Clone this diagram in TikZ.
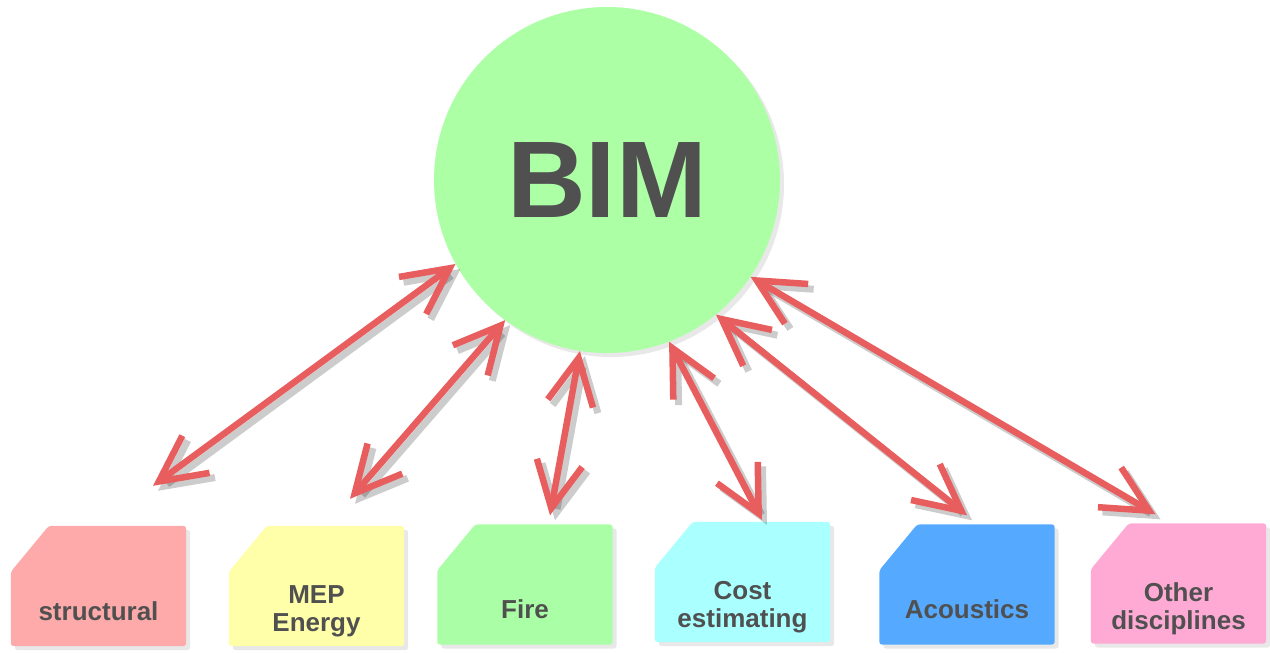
\documentclass[tikz,border=0pt]{standalone}
\usepackage{fontspec}
\setmainfont{Liberation Sans}
\usetikzlibrary{arrows.meta}
\usetikzlibrary{shadows}
\usetikzlibrary{backgrounds}

\definecolor{arrowred}{HTML}{E85E5E}
\definecolor{bimgreen}{HTML}{ADFFA6}
\definecolor{textgrey}{HTML}{505050}
\definecolor{structred}{HTML}{FFAAAA}
\definecolor{mepyellow}{HTML}{FFFFAA}
\definecolor{firegreen}{HTML}{AAFFA6}
\definecolor{costcyan}{HTML}{AAFFFF}
\definecolor{acoublue}{HTML}{55AAFF}
\definecolor{otherpink}{HTML}{FFAAD5}

\begin{document}
\begin{tikzpicture}[x=1pt,y=-1pt,
              every node/.style={text=textgrey},
              softshadow/.style={drop shadow={shadow xshift=4pt,shadow yshift=-4pt,opacity=.18}},
              disc/.style={rectangle,minimum width=175pt,minimum height=120pt,inner sep=0pt},
              disclabel/.style={font=\bfseries\fontsize{26}{28}\selectfont,align=center,yshift=-25pt},
              tips/.style={{Straight Barb[length=46pt,width=46pt]}-{Straight Barb[length=46pt,width=46pt]}},
              link/.style={tips,draw=arrowred,line width=6.5pt},
              linkshadow/.style={tips,draw=black,opacity=.2,line width=7pt}]
    \useasboundingbox (0,0) rectangle (1270,653);

    \node[circle,fill=bimgreen,minimum size=346pt,softshadow,
          font=\bfseries\fontsize{109}{109}\selectfont] (bim) at (607,180) {BIM};

    \node[disc,label={[disclabel]center:structural}] (struct) at (98.5,586) {};
    \node[disc,label={[disclabel]center:MEP\\Energy}] (mep) at (316.5,586) {};
    \node[disc,label={[disclabel]center:Fire}] (fire) at (525,584.5) {};
    \node[disc,label={[disclabel]center:Cost\\estimating}] (cost) at (742.5,582) {};
    \node[disc,label={[disclabel]center:Acoustics}] (acou) at (967,584.5) {};
    \node[disc,label={[disclabel]center:Other\\disciplines}] (other) at (1178.5,583.5) {};

    % boxes with the cut corner, behind the labels
    \begin{pgfonlayer}{background}
      \foreach \n/\c in {struct/structred,mep/mepyellow,fire/firegreen,
                         cost/costcyan,acou/acoublue,other/otherpink}
        \fill[\c,softshadow,rounded corners=3pt] (\n.south west) -- ([yshift=-46pt]\n.north west)
          -- ([xshift=38pt]\n.north west) -- (\n.north east) -- (\n.south east) -- cycle;
    \end{pgfonlayer}

    % shadow first, then the arrow
    \foreach \a/\n/\dx/\dy in {209/struct/54.5/40,234.5/mep/33.5/27,261.7/fire/25/9,
                               291.4/cost/19.5/2,309.2/acou/0/9,326.9/other/-23/9}{
      \begin{scope}[transform canvas={shift={(5pt,-5pt)}}]
        \path [linkshadow] (bim.\a) -- ([xshift=\dx pt,yshift=\dy pt]\n.north);
      \end{scope}
      \path [link] (bim.\a) -- ([xshift=\dx pt,yshift=\dy pt]\n.north);
    }
\end{tikzpicture}
\end{document}
